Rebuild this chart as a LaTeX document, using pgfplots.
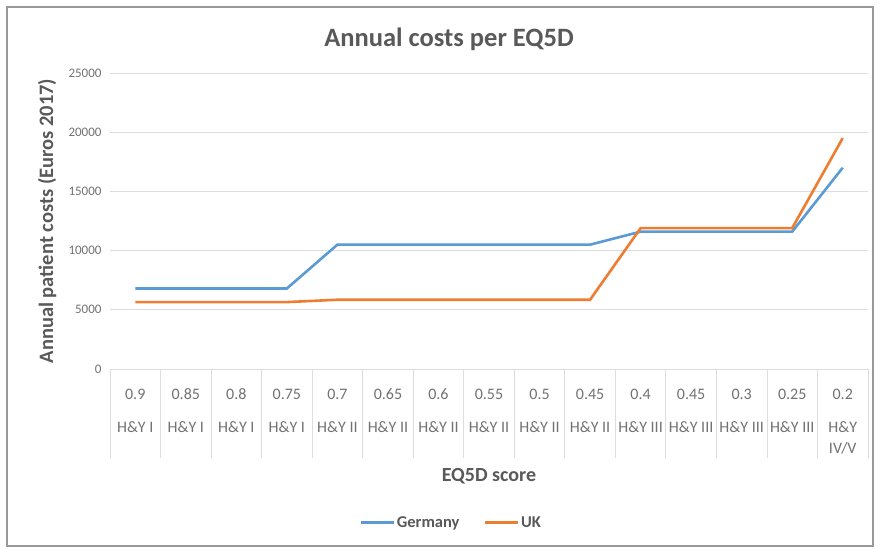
\documentclass[border=0pt]{standalone}
\usepackage{fontspec}
\setmainfont{Carlito}
\usepackage{pgfplots}
\pgfplotsset{compat=1.18}
\definecolor{xlblue}{HTML}{5B9BD5}
\definecolor{xlorange}{HTML}{ED7D31}
\definecolor{txtgray}{HTML}{595959}
\definecolor{gridgray}{HTML}{DDDDDD}

\pgfplotstableread{
idx germany uk
0  6800  5650
1  6800  5650
2  6800  5650
3  6800  5650
4  10500 5850
5  10500 5850
6  10500 5850
7  10500 5850
8  10500 5850
9  10500 5850
10 11600 11900
11 11600 11900
12 11600 11900
13 11600 11900
14 17000 19500
}\costs

% two-level category label: score on top, H&Y stage below
\newcommand{\cat}[2]{\strut #1\\[14pt]#2}

\begin{document}
\begin{tikzpicture}[x=1pt,y=1pt]
\useasboundingbox (0,0) rectangle (880,553);
\fill[white] (0,0) rectangle (880,553);
\draw[gray!80, line width=2.5pt] (7,7) rectangle (873,546);
\node[font=\fontsize{26.5}{31}\selectfont\bfseries, text=txtgray] at (449,514) {Annual costs per EQ5D};
\begin{axis}[
  at={(110pt,184pt)}, anchor=south west,
  scale only axis, width=758pt, height=296pt,
  xmin=-0.5, xmax=14.5, ymin=0, ymax=25000,
  xtick={0,...,14},
  xticklabels={
    {\cat{0.9}{H\&Y I}}, {\cat{0.85}{H\&Y I}}, {\cat{0.8}{H\&Y I}}, {\cat{0.75}{H\&Y I}},
    {\cat{0.7}{H\&Y II}}, {\cat{0.65}{H\&Y II}}, {\cat{0.6}{H\&Y II}}, {\cat{0.55}{H\&Y II}},
    {\cat{0.5}{H\&Y II}}, {\cat{0.45}{H\&Y II}}, {\cat{0.4}{H\&Y III}}, {\cat{0.45}{H\&Y III}},
    {\cat{0.3}{H\&Y III}}, {\cat{0.25}{H\&Y III}}, {\cat{0.2}{H\&Y\\[2pt]IV/V}}},
  xticklabel style={align=center, anchor=north, yshift=-14pt,
    font=\fontsize{16}{19}\selectfont, text=txtgray!85},
  extra x ticks={-0.5,0.5,...,14.5},
  extra x tick labels={},
  extra x tick style={major tick length=89pt, tick align=outside,
    tick style={draw=gridgray, line width=0.8pt}, grid=none},
  ytick={0,5000,...,25000},
  yticklabel style={font=\fontsize{13}{15}\selectfont, text=txtgray!85, xshift=-5pt},
  /pgf/number format/.cd, set thousands separator={}, assume math mode=true,
  /pgfplots/.cd,
  scaled y ticks=false,
  ymajorgrids, grid style={draw=gridgray, line width=0.8pt},
  major tick length=0pt,
  tick pos=left,
  axis line style={draw=none},
  ylabel={Annual patient costs (Euros 2017)},
  ylabel style={font=\fontsize{20.5}{24}\selectfont\bfseries, text=txtgray,
    at={(axis description cs:-0.083,0.5)}, anchor=center},
  xlabel={EQ5D score},
  xlabel style={font=\fontsize{20}{24}\selectfont\bfseries, text=txtgray,
    at={(axis description cs:0.5,-0.362)}, anchor=center},
  legend columns=2,
  legend style={at={(axis description cs:0.450,-0.5185)}, anchor=center, draw=none,
    font=\fontsize{16.5}{19}\selectfont\bfseries, text=txtgray,
    /tikz/every even column/.append style={column sep=22pt},
    /tikz/every odd column/.append style={inner xsep=0pt}},
  legend image code/.code={\draw[#1] (0pt,0pt) -- (33pt,0pt);},
]
\addplot[xlblue, line width=2.6pt] table[x=idx, y=germany] {\costs};
\addlegendentry{Germany}
\addplot[xlorange, line width=2.6pt] table[x=idx, y=uk] {\costs};
\addlegendentry{UK}
\end{axis}
\end{tikzpicture}
\end{document}
